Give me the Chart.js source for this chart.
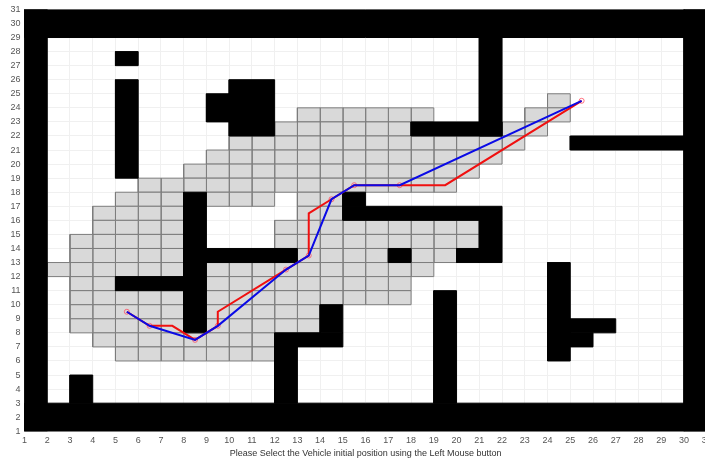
<!DOCTYPE html>
<html>
<head>
<meta charset="utf-8">
<style>
  html, body { margin: 0; padding: 0; background: #fff; overflow: hidden; }
  canvas { display: block; }
</style>
<script src="https://cdn.jsdelivr.net/npm/chart.js@4"></script>
</head>
<body>
<canvas id="map" width="720" height="459"></canvas>
<script>
var xRange = [1, 31];
var yRange = [1, 31];
var xLabel = "Please Select the Vehicle initial position using the Left Mouse button";

// obstacles as [x0, x1, y0, y1]
var obstacles = [
  [1, 2, 1, 31], [30, 31, 1, 31], [1, 31, 1, 3], [1, 31, 29, 31],
  [3, 4, 3, 5], [5, 6, 27, 28], [5, 6, 19, 26],
  [9, 10, 23, 25], [10, 12, 22, 26],
  [21, 22, 22, 29], [18, 22, 22, 23], [25, 30, 21, 22],
  [8, 9, 8, 18], [9, 13, 13, 14], [5, 8, 11, 12],
  [15, 16, 17, 18], [15, 22, 16, 17], [21, 22, 13, 16], [20, 21, 13, 14],
  [17, 18, 13, 14], [19, 20, 3, 11],
  [24, 25, 6, 13], [25, 27, 8, 9], [25, 26, 7, 8],
  [14, 15, 8, 10], [12, 15, 7, 8], [12, 13, 3, 7]
];

// searched cells, per row: [y, x0, x1]
var searched = [
  [6, 5, 12], [7, 4, 12],
  [8, 3, 8], [8, 9, 14], [9, 3, 8], [9, 9, 14],
  [10, 3, 8], [10, 9, 18], [11, 3, 5], [11, 9, 18],
  [12, 2, 8], [12, 9, 19],
  [13, 3, 8], [13, 13, 17], [13, 18, 20],
  [14, 3, 8], [14, 12, 21], [15, 4, 8], [15, 12, 21],
  [16, 4, 8], [16, 13, 15],
  [17, 5, 8], [17, 9, 12], [17, 13, 15],
  [18, 6, 20], [19, 8, 21], [20, 9, 22], [21, 10, 23],
  [22, 12, 18], [22, 22, 24], [23, 13, 19], [23, 23, 25], [24, 24, 25]
];

var redX = [5.5, 6.5, 7.5, 8.5, 9.5, 9.5, 12.5, 13.5, 13.5, 14.5, 15.5, 17.5, 19.5, 25.5];
var redY = [9.5, 8.5, 8.5, 7.5, 8.5, 9.5, 12.5, 13.5, 16.5, 17.5, 18.5, 18.5, 18.5, 24.5];
var blueX = [5.5, 6.5, 8.5, 9.5, 12.5, 13.5, 14.5, 15.5, 17.5, 25.5];
var blueY = [9.5, 8.5, 7.5, 8.5, 12.5, 13.5, 17.5, 18.5, 18.5, 24.5];

function zipXY(xs, ys) {
  return xs.map(function (x, i) { return { x: x, y: ys[i] }; });
}

function box(x0, x1, y0, y1) {
  return [
    { x: x0, y: y0 }, { x: x1, y: y0 }, { x: x1, y: y1 }, { x: x0, y: y1 }, { x: x0, y: y0 }
  ];
}

function shapeDataset(points, fillColor, edgeColor) {
  return {
    data: points,
    showLine: true,
    fill: "shape",
    backgroundColor: fillColor,
    borderColor: edgeColor,
    borderWidth: 1,
    pointRadius: 0,
    tension: 0
  };
}

// first dataset ends up on top
var datasets = [
  {
    data: zipXY(blueX, blueY),
    showLine: true,
    borderColor: "#0a0ae6",
    borderWidth: 2,
    pointRadius: 0,
    tension: 0
  },
  {
    data: zipXY(redX, redY),
    showLine: true,
    borderColor: "#f01010",
    borderWidth: 2,
    pointRadius: 0,
    tension: 0
  },
  {
    data: zipXY(blueX, blueY),
    showLine: false,
    pointRadius: 2.5,
    pointBorderWidth: 1,
    pointBackgroundColor: "rgba(0,0,0,0)",
    pointBorderColor: "rgba(255, 80, 100, 0.8)"
  }
];

obstacles.forEach(function (o) {
  datasets.push(shapeDataset(box(o[0], o[1], o[2], o[3]), "#000", "#000"));
});

searched.forEach(function (run) {
  for (var x = run[1]; x < run[2]; x++) {
    datasets.push(shapeDataset(box(x, x + 1, run[0], run[0] + 1), "#d9d9d9", "#7c7c7c"));
  }
});

var tickFont = { family: "'Liberation Sans', Arial, sans-serif", size: 9 };

new Chart(document.getElementById("map"), {
  type: "scatter",
  data: { datasets: datasets },
  options: {
    responsive: false,
    animation: false,
    layout: { padding: { top: 8.5, right: 13.3, left: 0, bottom: 0 } },
    plugins: {
      legend: { display: false },
      tooltip: { enabled: false }
    },
    scales: {
      x: {
        type: "linear",
        min: xRange[0],
        max: xRange[1],
        afterFit: function (scale) { scale.height = 27.7; },
        border: { color: "#a8a8a8" },
        grid: { color: "#f0f0f0", tickLength: 0 },
        ticks: {
          stepSize: 1,
          autoSkip: false,
          maxRotation: 0,
          padding: 4,
          color: "#555",
          font: tickFont
        },
        title: {
          display: true,
          text: xLabel,
          color: "#333",
          font: tickFont,
          padding: { top: 1, bottom: 0.5 }
        }
      },
      y: {
        type: "linear",
        min: yRange[0],
        max: yRange[1],
        afterFit: function (scale) { scale.width = 24.5; },
        border: { color: "#a8a8a8" },
        grid: { color: "#f0f0f0", tickLength: 0 },
        ticks: {
          stepSize: 1,
          autoSkip: false,
          padding: 4,
          color: "#555",
          font: tickFont
        }
      }
    }
  }
});
</script>
</body>
</html>
